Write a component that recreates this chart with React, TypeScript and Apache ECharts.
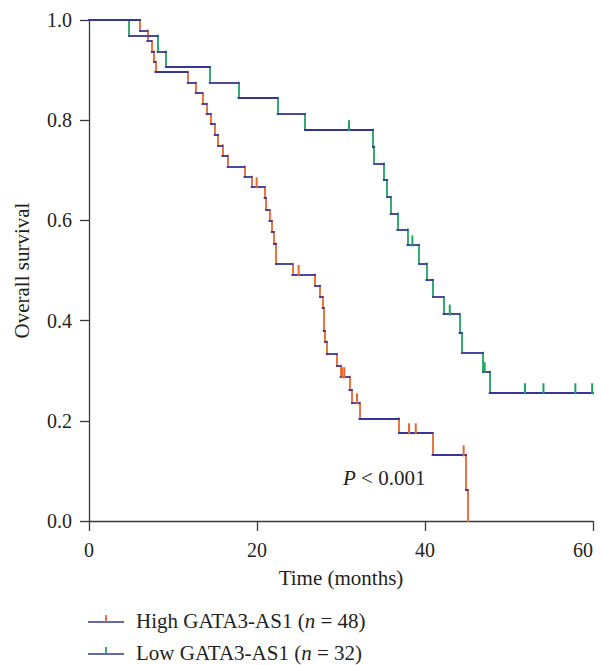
import React, { useEffect, useRef } from "react";
import * as echarts from "echarts";

// ---- Data ----
const highTimes = [0, 6.07, 6.94, 7.46, 7.74, 7.9, 11.75, 12.7, 13.5, 14.0, 14.5, 14.96, 15.36, 15.87, 16.5, 18.5, 19.36, 20.9, 21.07, 21.47, 21.75, 22.0, 22.26, 24.2, 26.9, 27.5, 27.8, 27.94, 28.1, 28.3, 29.5, 29.95, 31.0, 31.3, 32.2, 36.9, 40.9, 44.88, 45.08];
const highSurv = [1.0, 0.979, 0.958, 0.9375, 0.917, 0.896, 0.875, 0.854, 0.833, 0.8125, 0.792, 0.771, 0.75, 0.729, 0.708, 0.6875, 0.667, 0.645, 0.621, 0.599, 0.577, 0.554, 0.513, 0.492, 0.47, 0.448, 0.425, 0.379, 0.358, 0.333, 0.31, 0.288, 0.261, 0.236, 0.205, 0.176, 0.132, 0.062, 0.0];
const highEnd = 45.08;
const highCensorTimes = [19.96, 24.96, 30.15, 30.4, 31.9, 38.1, 38.9, 44.6];
const highCensorSurv = [0.667, 0.492, 0.288, 0.288, 0.236, 0.176, 0.176, 0.132];

const lowTimes = [0, 4.76, 8.17, 9.17, 14.37, 17.8, 22.46, 25.7, 33.8, 33.95, 35.1, 35.5, 35.9, 36.7, 37.9, 39.3, 40.15, 40.95, 42.2, 44.1, 44.4, 46.9, 47.7];
const lowSurv = [1.0, 0.969, 0.9375, 0.906, 0.875, 0.844, 0.8125, 0.781, 0.747, 0.714, 0.681, 0.647, 0.614, 0.582, 0.551, 0.514, 0.481, 0.447, 0.413, 0.375, 0.336, 0.298, 0.256];
const lowEnd = 60;
const lowCensorTimes = [30.95, 38.5, 42.95, 47.1, 51.9, 54.1, 57.9, 59.9];
const lowCensorSurv = [0.781, 0.551, 0.413, 0.298, 0.256, 0.256, 0.256, 0.256];

const xTicks = { min: 0, max: 60, interval: 20 };
const yTicks = { min: 0, max: 1, interval: 0.2 };

const highLabel = ["High GATA3-AS1 (", "n", " = 48)"];
const lowLabel = ["Low GATA3-AS1 (", "n", " = 32)"];
const pLabel = ["P", " < 0.001"];

// ---- Styles ----
const NAVY = "#34369a";
const ORANGE = "#e8662f";
const GREEN = "#20a262";
const FONT = "'Liberation Serif', 'DejaVu Serif', serif";
const TXT = "#231f20";

function buildSegments(times: number[], surv: number[], end: number) {
  const hor: any[] = [];
  const ver: any[] = [];
  for (let i = 0; i < times.length; i++) {
    const next = i + 1 < times.length ? times[i + 1] : end;
    if (next > times[i]) hor.push({ coords: [[times[i], surv[i]], [next, surv[i]]] });
    if (i + 1 < times.length) ver.push({ coords: [[times[i + 1], surv[i]], [times[i + 1], surv[i + 1]]] });
  }
  return { hor, ver };
}

export default function App() {
  const ref = useRef<HTMLDivElement>(null);
  useEffect(() => {
    if (!ref.current) return;
    const chart = echarts.init(ref.current, undefined, { renderer: "svg" });
    const hi = buildSegments(highTimes, highSurv, highEnd);
    const lo = buildSegments(lowTimes, lowSurv, lowEnd);
    const lineSeries = (data: any[], color: string, width: number, z: number) => ({
      type: "lines",
      coordinateSystem: "cartesian2d",
      polyline: false,
      silent: true,
      z,
      data,
      lineStyle: { color, width, opacity: 1, cap: "square" },
    });
    const censor = (t: number[], s: number[], color: string) => ({
      type: "scatter",
      silent: true,
      z: 5,
      symbol: "rect",
      symbolSize: [2, 11],
      symbolOffset: [0, -4],
      itemStyle: { color, opacity: 1 },
      data: t.map((v, i) => [v, s[i]]),
    });
    const richText = (parts: string[], italicIdx: number) =>
      parts.map((p, i) => (i === italicIdx ? `{i|${p}}` : `{r|${p}}`)).join("");
    const rich = (size: number) => ({
      r: { fontFamily: FONT, fontSize: size, fill: TXT, fontStyle: "normal", lineHeight: size - 1 },
      i: { fontFamily: FONT, fontSize: size, fill: TXT, fontStyle: "italic", lineHeight: size - 1 },
    });
    const legendItem = (y: number, tickColor: string, parts: string[]) => ({
      type: "group",
      children: [
        { type: "line", shape: { x1: 88, y1: y, x2: 124, y2: y }, style: { stroke: NAVY, lineWidth: 1.6 } },
        { type: "line", shape: { x1: 106, y1: y - 7, x2: 106, y2: y }, style: { stroke: tickColor, lineWidth: 1.8 } },
        {
          type: "text",
          x: 136,
          y: y - 1,
          style: { text: richText(parts, 1), rich: rich(21), verticalAlign: "middle", align: "left" },
        },
      ],
    });
    chart.setOption({
      animation: false,
      backgroundColor: "#ffffff",
      grid: { left: 89, right: 8, top: 20, bottom: 144, containLabel: false, outerBoundsMode: "none" },
      xAxis: {
        type: "value",
        min: xTicks.min,
        max: xTicks.max,
        interval: xTicks.interval,
        name: "Time (months)",
        nameLocation: "middle",
        nameGap: 46,
        nameTextStyle: { fontFamily: FONT, fontSize: 21, color: TXT },
        axisLine: { show: true, onZero: false, lineStyle: { color: "#3a3a3a", width: 1.3 } },
        axisTick: { show: true, length: 10, lineStyle: { color: "#3a3a3a", width: 1.3 } },
        axisLabel: { fontFamily: FONT, fontSize: 20, color: TXT, margin: 19, alignMaxLabel: "right" },
        splitLine: { show: false },
      },
      yAxis: {
        type: "value",
        min: yTicks.min,
        max: yTicks.max,
        interval: yTicks.interval,
        name: "Overall survival",
        nameLocation: "middle",
        nameGap: 57,
        nameTextStyle: { fontFamily: FONT, fontSize: 21, color: TXT },
        axisLine: { show: true, onZero: false, lineStyle: { color: "#3a3a3a", width: 1.3 } },
        axisTick: { show: true, length: 9, lineStyle: { color: "#3a3a3a", width: 1.3 } },
        axisLabel: { fontFamily: FONT, fontSize: 20, color: TXT, margin: 17, formatter: (v: number) => v.toFixed(1) },
        splitLine: { show: false },
      },
      series: [
        lineSeries(hi.ver, ORANGE, 1.8, 2),
        lineSeries(lo.ver, GREEN, 1.8, 2),
        lineSeries(hi.hor, NAVY, 1.8, 3),
        lineSeries(lo.hor, NAVY, 1.8, 3),
        censor(highCensorTimes, highCensorSurv, ORANGE),
        censor(lowCensorTimes, lowCensorSurv, GREEN),
      ],
      graphic: [
        {
          type: "text",
          x: 343,
          y: 478,
          style: { text: richText(pLabel, 0), rich: rich(21), verticalAlign: "middle", align: "left" },
        },
        legendItem(622, ORANGE, highLabel),
        legendItem(654, GREEN, lowLabel),
      ],
    });
    return () => chart.dispose();
  }, []);
  return <div ref={ref} style={{ position: "fixed", left: 0, top: 0, width: 601, height: 665 }} />;
}
